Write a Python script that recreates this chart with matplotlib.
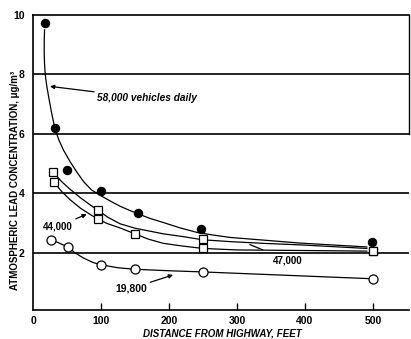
import matplotlib
matplotlib.use("Agg")
import matplotlib.pyplot as plt

# ---- data ----
dist_58000 = [17, 32, 50, 100, 155, 247, 498]
lead_58000 = [9.72, 6.2, 4.8, 4.09, 3.33, 2.79, 2.37]

dist_47000 = [30, 95, 250, 500]
lead_47000 = [4.71, 3.44, 2.47, 2.05]

dist_44000 = [31, 96, 150, 250, 500]
lead_44000 = [4.37, 3.13, 2.64, 2.17, 2.05]

dist_19800 = [27, 51, 100, 150, 250, 500]
lead_19800 = [2.45, 2.2, 1.6, 1.45, 1.36, 1.13]

# fitted curves
curve_58000_x = [17, 16.5, 16.5, 17, 18, 20, 23, 27, 32, 38, 45, 55, 65, 75, 86, 100, 114, 128, 141, 155, 172, 192, 215, 241, 265, 290, 339, 393, 491]
curve_58000_y = [9.5, 9.1, 8.7, 8.35, 8.0, 7.65, 7.25, 6.75, 6.2, 5.8, 5.45, 5.05, 4.7, 4.38, 4.12, 3.92, 3.74, 3.57, 3.44, 3.31, 3.16, 3.02, 2.85, 2.69, 2.6, 2.52, 2.43, 2.33, 2.2]

curve_47000_x = [30, 42, 54, 70, 85, 95, 110, 128, 150, 172, 192, 220, 250, 290, 340, 393, 491]
curve_47000_y = [4.71, 4.4, 4.15, 3.85, 3.6, 3.44, 3.2, 2.98, 2.83, 2.73, 2.64, 2.55, 2.44, 2.38, 2.32, 2.27, 2.15]

curve_44000_x = [31, 42, 54, 70, 85, 96, 110, 128, 150, 170, 192, 220, 250, 300, 400, 491]
curve_44000_y = [4.37, 4.07, 3.8, 3.5, 3.28, 3.13, 2.98, 2.84, 2.64, 2.46, 2.32, 2.23, 2.15, 2.1, 2.08, 2.06]

curve_19800_x = [27, 51, 62, 74, 88, 100, 125, 150, 200, 250, 500]
curve_19800_y = [2.45, 2.2, 2.0, 1.83, 1.68, 1.6, 1.5, 1.45, 1.4, 1.36, 1.13]

x_ticks = [0, 100, 200, 300, 400, 500]
y_ticks = [2, 4, 6, 8, 10]

FONT = ["Liberation Sans", "DejaVu Sans"]
plt.rcParams["font.family"] = FONT

fig = plt.figure(figsize=(4.11, 3.39), dpi=100)
ax = fig.add_axes([33 / 411, 1 - 310 / 339, (409 - 33) / 411, (310 - 15) / 339])
ax.set_xlim(0, 553)
ax.set_ylim(0.08, 10)

# gridlines
for yv in [2, 4, 6, 8]:
    ax.axhline(yv, color="black", lw=1.2, zorder=1)

lw = 0.9
ax.plot(curve_58000_x, curve_58000_y, color="black", lw=lw, zorder=2)
ax.plot(curve_47000_x, curve_47000_y, color="black", lw=lw, zorder=2)
ax.plot(curve_44000_x, curve_44000_y, color="black", lw=lw, zorder=2)
ax.plot(curve_19800_x, curve_19800_y, color="black", lw=lw, zorder=2)

ax.plot(dist_58000, lead_58000, "o", ms=5.8, color="black", zorder=3, linestyle="none")
ax.plot(dist_47000, lead_47000, "s", ms=5.5, mfc="white", mec="black", mew=0.9, zorder=3, linestyle="none")
ax.plot(dist_44000, lead_44000, "s", ms=5.5, mfc="white", mec="black", mew=0.9, zorder=3, linestyle="none")
ax.plot(dist_19800, lead_19800, "o", ms=6.5, mfc="white", mec="black", mew=0.9, zorder=3, linestyle="none")

# spines
for s in ["left", "top", "bottom"]:
    ax.spines[s].set_linewidth(1.2)
ax.spines["right"].set_linewidth(1.0)
ax.spines["right"].set_bounds(6, 10)

ax.set_xticks(x_ticks)
ax.set_xticklabels([str(v) for v in x_ticks], fontsize=7.5, fontweight="bold")
ax.tick_params(axis="x", direction="in", length=5, width=1.0, pad=4)
ax.xaxis.get_major_ticks()[0].tick1line.set_visible(False)
ax.set_yticks(y_ticks)
ax.set_yticklabels([str(v) for v in y_ticks], fontsize=7.5, fontweight="bold")
ax.tick_params(axis="y", length=0, pad=6)

fig.text(15 / 411, 1 - 180 / 339, "ATMOSPHERIC LEAD CONCENTRATION, \u03bcg/m\u00b3",
         rotation=90, ha="center", va="center", fontsize=7, fontweight="bold")
fig.text(222 / 411, 1 - 334 / 339, "DISTANCE FROM HIGHWAY, FEET",
         ha="center", va="center", fontsize=7, fontstyle="italic", fontweight="bold")

arrow = dict(arrowstyle="-|>", color="black", lw=0.9, mutation_scale=6, shrinkA=0, shrinkB=0)
ax.annotate("58,000 vehicles daily", xy=(25, 7.6), xytext=(94, 7.2),
            fontsize=7.3, fontstyle="italic", fontweight="bold", ha="left", va="center",
            arrowprops=arrow)
ax.annotate("44,000", xy=(79, 3.3), xytext=(37, 2.9),
            fontsize=7, fontweight="bold", ha="center", va="center",
            arrowprops=arrow)
ax.annotate("19,800", xy=(206, 1.26), xytext=(145, 0.81),
            fontsize=7.5, fontweight="bold", ha="center", va="center",
            arrowprops=arrow)
ax.annotate("47,000", xy=(319, 2.28), xytext=(375, 1.75),
            fontsize=7, fontweight="bold", ha="center", va="center",
            arrowprops=dict(arrowstyle="-", color="black", lw=0.9, shrinkA=6, shrinkB=0))

fig.savefig("out.png", dpi=100)
